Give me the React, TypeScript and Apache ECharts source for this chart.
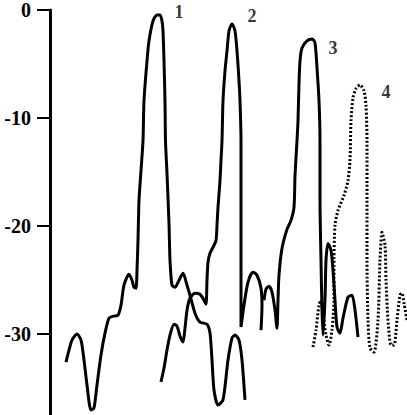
import React, { useEffect, useRef } from "react";
import * as echarts from "echarts";

// Response curves: [x, level]
const curve1: number[][] = [
  [66, -32.6], [69, -31.49], [72, -30.56], [77, -30.01], [81, -30.56], [84, -32.41],
  [87, -34.72], [91, -37.03], [94, -36.84], [97, -34.72], [101, -31.95], [105, -29.92],
  [109, -28.53], [113, -28.35], [118, -28.25], [121, -27.33], [124, -25.48], [129, -24.47],
  [132, -25.02], [134, -25.67], [136, -25.76], [137, -24.1], [138, -21.33], [139, -17.64],
  [141, -14.87], [143, -12.1], [144, -8.4], [147, -4.71], [149, -2.86], [153, -1.02],
  [157, -0.46], [160, -0.46], [162, -1.02], [163, -1.94], [164, -4.71], [165, -8.4],
  [165.5, -12.1], [167, -15.14], [169, -19.76], [170, -23.18], [172, -25.48], [175, -25.67],
  [179, -25.02], [183, -24.38], [187, -25.48], [190, -26.41], [195, -28.07], [200, -28.9],
  [207, -29.09], [210, -29.92], [212, -32.41], [214, -35.18], [218, -36.57], [223, -36.1],
  [228, -32.41], [232, -30.38], [235, -30.1], [239, -30.56], [242, -32.41], [245, -36.1],
];

const curve2: number[][] = [
  [161, -34.44], [164, -33.15], [167, -31.49], [170, -30.1], [174, -29.09], [177, -29.27],
  [180, -30.19], [183, -30.75], [185, -29.46], [187, -27.79], [190, -26.69], [195, -26.22],
  [200, -26.32], [204, -26.87], [206, -27.24], [207, -25.02], [208, -23.36], [210, -22.53],
  [213, -21.98], [216, -21.33], [217, -19.94], [218, -18.28], [220, -15.79], [221, -13.94],
  [222, -12.1], [223, -8.4], [225, -5.63], [227, -3.79], [229, -1.94], [232, -1.29],
  [235, -1.94], [237, -3.79], [239, -6.56], [240, -8.4], [241, -12.1], [241, -17.64],
  [241, -23.18], [241, -26.87], [241, -29.36], [244, -27.33], [248, -25.21], [253, -24.28],
  [257, -24.56], [261, -25.76], [262, -27.33], [261, -29.64],
];

const curve3: number[][] = [
  [264, -26.87], [266, -25.85], [269, -25.58], [272, -26.13], [275, -27.79], [277, -29.46],
  [278, -26.87], [279, -24.56], [282, -22.07], [287, -20.31], [291, -19.48], [294, -18.28],
  [295, -15.33], [297, -12.1], [298, -10.25], [299, -6.83], [300, -4.71], [302, -3.51],
  [307, -2.86], [312, -2.68], [315, -3.05], [317, -5.36], [319, -8.4], [320, -12.1],
  [320, -17.64], [321, -23.18], [322, -27.79], [323, -30.1], [325, -26.87], [326, -23.18],
  [328, -21.61], [331, -22.25], [333, -24.1], [335, -26.87], [337, -29.36], [340, -29.92],
  [343, -28.53], [348, -26.59], [352, -26.41], [355, -27.79], [358, -30.29],
];

const curve4: number[][] = [
  [313, -31.21], [316, -29.64], [319, -27.33], [321, -26.87], [323, -28.25], [326, -30.1],
  [329, -31.02], [332, -29.64], [334, -26.87], [334, -23.18], [335, -19.94], [338, -18.56],
  [344, -17.17], [348, -15.79], [350, -13.94], [351, -10.25], [353, -8.13], [356, -7.29],
  [360, -6.93], [364, -7.48], [366, -8.86], [367, -12.1], [367, -17.64], [367, -23.18],
  [368, -28.72], [370, -31.3], [374, -31.67], [378, -28.72], [380, -23.18], [382, -20.59],
  [385, -21.79], [386, -25.02], [388, -28.72], [391, -31.02], [394, -31.02], [397, -28.72],
  [400, -26.41], [402, -26.22], [404, -27.15], [407, -28.72],
];

const curveNames = ["1", "2", "3", "4"];
const curveLabelX = [179, 252, 333, 386];
const curveLabelY = [-0.18, -0.55, -3.51, -7.57];

const yTicks = [0, -10, -20, -30];

export default function App() {
  const ref = useRef<HTMLDivElement>(null);
  useEffect(() => {
    if (!ref.current) return;
    const chart = echarts.init(ref.current, undefined, { renderer: "svg" });
    const solid = (data: number[][]) => ({
      type: "line",
      data,
      smooth: 0.25,
      showSymbol: false,
      symbol: "none",
      lineStyle: { color: "#000", width: 3 },
      silent: true,
    });
    chart.setOption({
      animation: false,
      backgroundColor: "#fff",
      grid: { left: 50, top: 9, right: 0, bottom: 0 },
      xAxis: { type: "value", min: 50, max: 407, show: false },
      yAxis: {
        type: "value",
        min: -37.5,
        max: 0,
        axisLine: { show: true, lineStyle: { color: "#000", width: 3 } },
        axisTick: {
          show: true,
          length: 13,
          customValues: yTicks,
          lineStyle: { color: "#000", width: 2 },
        },
        splitLine: { show: false },
        axisLabel: {
          margin: 19,
          color: "#000",
          fontFamily: "Liberation Serif",
          fontWeight: "bold",
          fontSize: 20,
          customValues: yTicks,
        },
      },
      series: [
        solid(curve1),
        solid(curve2),
        solid(curve3),
        {
          type: "line",
          data: curve4,
          smooth: 0.25,
          showSymbol: false,
          symbol: "none",
          lineStyle: { color: "#000", width: 3, type: [2, 2] },
          silent: true,
        },
        {
          type: "scatter",
          symbolSize: 0,
          data: curveNames.map((n, i) => [curveLabelX[i], curveLabelY[i], n]),
          label: {
            show: true,
            position: "inside",
            formatter: (p: any) => p.value[2],
            color: "#000",
            fontFamily: "Liberation Serif",
            fontWeight: "bold",
            fontSize: 18,
          },
          silent: true,
        },
      ],
    });
    return () => chart.dispose();
  }, []);
  return (
    <div
      ref={ref}
      style={{ position: "absolute", left: 0, top: 0, width: 407, height: 415 }}
    />
  );
}
